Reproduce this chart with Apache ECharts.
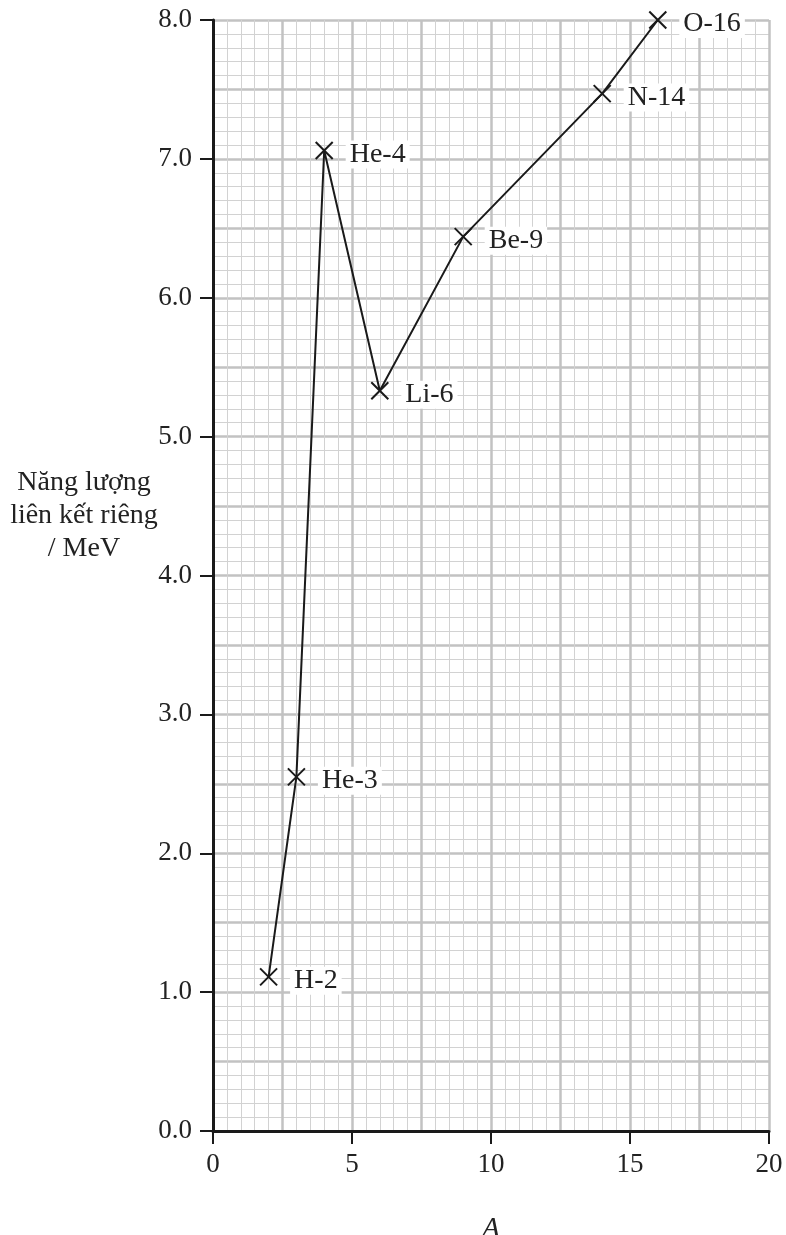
<!DOCTYPE html>
<html><head><meta charset="utf-8">
<script src="https://cdn.jsdelivr.net/npm/echarts@6/dist/echarts.min.js"></script>
<style>html,body{margin:0;padding:0;background:#fff}#c{width:786px;height:1235px}</style>
</head><body><div id="c"></div>
<script>
const nuclides = ['H-2','He-3','He-4','Li-6','Be-9','N-14','O-16'];
const massNumbers = [2,3,4,6,9,14,16];
const bindingEnergy = [1.11,2.55,7.06,5.33,6.44,7.47,8.0];
const xTicks = [0,5,10,15,20];
const yTicks = ['0.0','1.0','2.0','3.0','4.0','5.0','6.0','7.0','8.0'];

const serif = 'Liberation Serif';
const chart = echarts.init(document.getElementById('c'));
const gridLine = {show:true, lineStyle:{color:'#c2c2c2', width:2.5}};
const minorLine = {show:true, lineStyle:{color:'#d2d2d2', width:1}};
chart.setOption({
  animation:false,
  grid:{left:213,right:17,top:20,bottom:104,containLabel:false,outerBoundsMode:'none'},
  xAxis:[
    {type:'value',min:0,max:20,interval:2.5,position:'bottom',
     axisLine:{show:false},axisTick:{show:false},axisLabel:{show:false},
     splitLine:gridLine,minorTick:{show:false,splitNumber:5},minorSplitLine:minorLine},
    {type:'value',min:0,max:20,interval:5,position:'bottom',
     axisLine:{show:true,onZero:false,lineStyle:{color:'#1a1a1a',width:3}},
     axisTick:{show:true,length:13,lineStyle:{color:'#1a1a1a',width:2}},
     axisLabel:{show:true,margin:20,fontFamily:serif,fontSize:27,color:'#222',
       formatter:v=>xTicks.includes(v)?String(v):''},
     splitLine:{show:false},
     name:'A',nameLocation:'middle',nameGap:84,
     nameTextStyle:{fontFamily:serif,fontSize:28,fontStyle:'italic',color:'#222'}}
  ],
  yAxis:[
    {type:'value',min:0,max:8,interval:0.5,
     axisLine:{show:false},axisTick:{show:false},axisLabel:{show:false},
     splitLine:gridLine,minorTick:{show:false,splitNumber:5},minorSplitLine:minorLine},
    {type:'value',min:0,max:8,interval:1,position:'left',
     axisLine:{show:true,onZero:false,lineStyle:{color:'#1a1a1a',width:3}},
     axisTick:{show:true,length:13,lineStyle:{color:'#1a1a1a',width:2}},
     axisLabel:{show:true,margin:21,fontFamily:serif,fontSize:27,color:'#222',
       formatter:v=>yTicks[Math.round(v)]},
     splitLine:{show:false}}
  ],
  graphic:[
    {type:'text',x:84,y:516,style:{text:'Năng lượng\nliên kết riêng\n/ MeV',
      textAlign:'center',textVerticalAlign:'middle',fontFamily:serif,fontSize:28,lineHeight:33,fill:'#222'}}
  ],
  series:[{
    type:'line',xAxisIndex:1,yAxisIndex:1,
    data:massNumbers.map((x,i)=>[x,bindingEnergy[i],nuclides[i]]),
    symbol:'path://M0,0L10,10M10,0L0,10',symbolSize:17,
    itemStyle:{color:'transparent',borderColor:'#1a1a1a',borderWidth:2},
    lineStyle:{color:'#1a1a1a',width:2},
    label:{show:true,position:'right',distance:12,offset:[0,4],
      formatter:p=>p.data[2],fontFamily:serif,fontSize:28,color:'#222',
      backgroundColor:'#fff',padding:[0,4]},
    z:5
  }]
});
</script></body></html>
